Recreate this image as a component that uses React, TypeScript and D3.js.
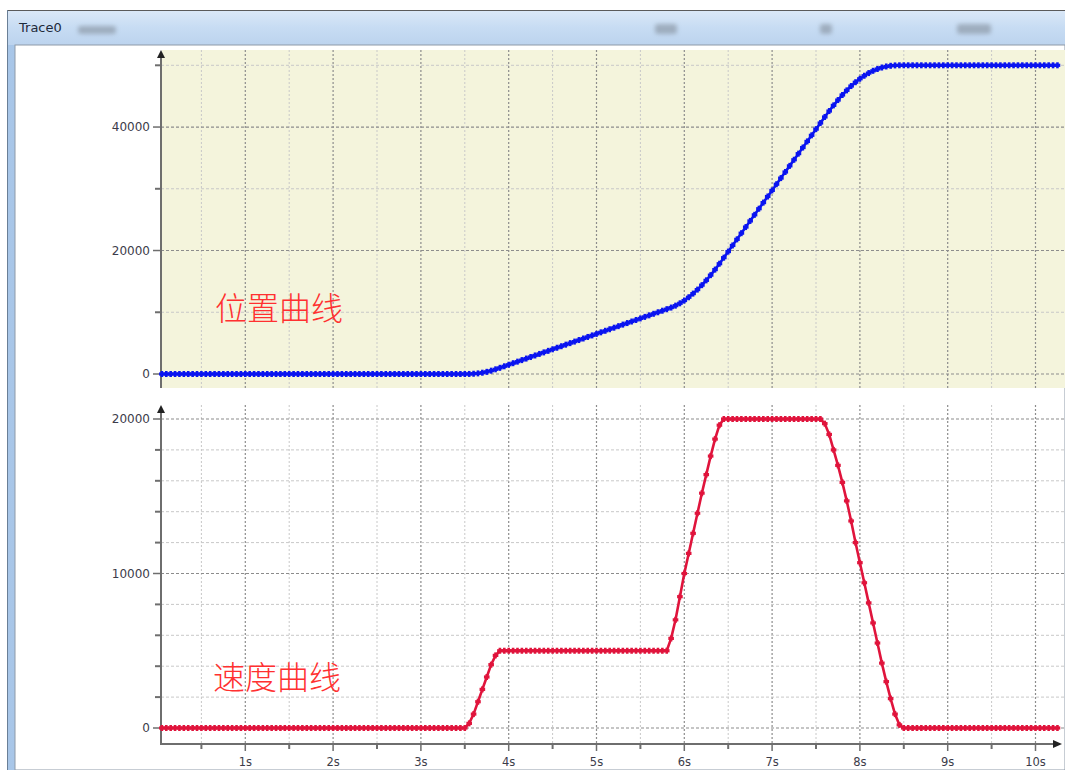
import React from "react";
import * as d3 from "d3";

// sample interval (s) and first sample time
const SAMPLE_STEP = 0.05;
const FIRST_T = 0.05;

const positionValues: number[] = [
  0, 0, 0, 0, 0, 0, 0, 0, 0, 0,
  0, 0, 0, 0, 0, 0, 0, 0, 0, 0,
  0, 0, 0, 0, 0, 0, 0, 0, 0, 0,
  0, 0, 0, 0, 0, 0, 0, 0, 0, 0,
  0, 0, 0, 0, 0, 0, 0, 0, 0, 0,
  0, 0, 0, 0, 0, 0, 0, 0, 0, 0,
  0, 0, 0, 0, 0, 0, 0, 0, 0, 0,
  10, 40, 100, 210, 350, 540, 760, 1000,
  1250, 1500, 1750, 2000, 2250, 2500, 2750, 3000, 3250, 3500,
  3750, 4000, 4250, 4500, 4750, 5000, 5250, 5500, 5750, 6000,
  6250, 6500, 6750, 7000, 7250, 7500, 7750, 8000, 8250, 8500,
  8750, 9000, 9250, 9500, 9750, 10000, 10250, 10500,
  10760, 11070, 11450, 11900, 12430, 13020, 13670, 14390, 15170, 16010,
  16910, 17860, 18840,
  19830, 20820, 21810, 22810, 23800, 24790, 25780, 26770, 27760, 28750,
  29740, 30740, 31730, 32720, 33710, 34700, 35690, 36680, 37670, 38660,
  39660, 40650,
  41630, 42590, 43510, 44370, 45190, 45940, 46640, 47260, 47820, 48310,
  48740, 49110, 49400, 49640, 49810, 49920, 49980, 50000, 50000,
  50000, 50000, 50000, 50000, 50000, 50000, 50000, 50000, 50000, 50000,
  50000, 50000, 50000, 50000, 50000, 50000, 50000, 50000, 50000, 50000,
  50000, 50000, 50000, 50000, 50000, 50000, 50000, 50000, 50000, 50000,
  50000, 50000, 50000, 50000, 50000,
];

const velocityValues: number[] = [
  0, 0, 0, 0, 0, 0, 0, 0, 0, 0,
  0, 0, 0, 0, 0, 0, 0, 0, 0, 0,
  0, 0, 0, 0, 0, 0, 0, 0, 0, 0,
  0, 0, 0, 0, 0, 0, 0, 0, 0, 0,
  0, 0, 0, 0, 0, 0, 0, 0, 0, 0,
  0, 0, 0, 0, 0, 0, 0, 0, 0, 0,
  0, 0, 0, 0, 0, 0, 0, 0, 0, 0,
  300, 900, 1700, 2500, 3300, 4100, 4700, 5000,
  5000, 5000, 5000, 5000, 5000, 5000, 5000, 5000, 5000, 5000,
  5000, 5000, 5000, 5000, 5000, 5000, 5000, 5000, 5000, 5000,
  5000, 5000, 5000, 5000, 5000, 5000, 5000, 5000, 5000, 5000,
  5000, 5000, 5000, 5000, 5000, 5000, 5000, 5000,
  5800, 7000, 8500, 10000, 11300, 12600, 13900, 15200, 16400, 17600,
  18700, 19600,
  20000, 20000, 20000, 20000, 20000, 20000, 20000, 20000, 20000, 20000,
  20000, 20000, 20000, 20000, 20000, 20000, 20000, 20000, 20000, 20000,
  20000, 20000, 20000,
  19700, 19000, 18000, 17000, 15900, 14700, 13400, 12000, 10700, 9400,
  8100, 6800, 5500, 4200, 3000, 1900, 900, 200,
  0, 0, 0, 0, 0, 0, 0, 0, 0, 0,
  0, 0, 0, 0, 0, 0, 0, 0, 0, 0,
  0, 0, 0, 0, 0, 0, 0, 0, 0, 0,
  0, 0, 0, 0, 0, 0,
];

const xMajorTicks = [1, 2, 3, 4, 5, 6, 7, 8, 9, 10];
const xMinorTicks = [0.5, 1.5, 2.5, 3.5, 4.5, 5.5, 6.5, 7.5, 8.5, 9.5];
const posMajorTicks = [0, 20000, 40000];
const posMinorTicks = [10000, 30000, 50000];
const velMajorTicks = [0, 10000, 20000];
const velMinorTicks = [2000, 4000, 6000, 8000, 12000, 14000, 16000, 18000];

const title = "Trace0";
const posLabel = "位置曲线";
const velLabel = "速度曲线";

const W = 1065;
const H = 770;
const AXIS_X = 161;
const X_RIGHT = 1062;

const xScale = d3.scaleLinear().domain([0, 10]).range([157.5, 1035.5]);
const yPos = d3.scaleLinear().domain([0, 50000]).range([374, 65.3]);
const yVel = d3.scaleLinear().domain([0, 20000]).range([728, 419]);

const AXIS_COLOR = "#6e6e6e";
const LABEL_COLOR = "#3c3c4a";
const FONT = "'DejaVu Sans', 'Liberation Sans', Arial, sans-serif";

function Series({ values, y, color }: { values: number[]; y: d3.ScaleLinear<number, number>; color: string }) {
  const pts: [number, number][] = values.map((v, i) => [xScale(FIRST_T + i * SAMPLE_STEP), y(v)]);
  const line = d3.line<[number, number]>().x((d) => d[0]).y((d) => d[1]);
  return (
    <g>
      <path d={line(pts) || ""} fill="none" stroke={color} strokeWidth={2.6} />
      {pts.map((p, i) => (
        <g key={i}>
          <rect x={p[0] - 1.3} y={p[1] - 3} width={2.6} height={6} fill={color} />
          <rect x={p[0] - 2.8} y={p[1] - 1.6} width={5.6} height={3.2} fill={color} />
        </g>
      ))}
    </g>
  );
}

function Panel({
  y,
  top,
  bottom,
  major,
  minor,
  bg,
}: {
  y: d3.ScaleLinear<number, number>;
  top: number;
  bottom: number;
  major: number[];
  minor: number[];
  bg?: string;
}) {
  return (
    <g>
      {bg && <rect x={AXIS_X + 1} y={top} width={W - AXIS_X} height={bottom - top} fill={bg} />}
      {xMinorTicks.map((t) => (
        <line key={"vm" + t} x1={xScale(t)} x2={xScale(t)} y1={top} y2={bottom} stroke="#c8c8c8" strokeWidth={1} strokeDasharray="2,2" />
      ))}
      {xMajorTicks.map((t) => (
        <line key={"vM" + t} x1={xScale(t)} x2={xScale(t)} y1={top} y2={bottom} stroke="#8c8c8c" strokeWidth={1.2} strokeDasharray="2,2" />
      ))}
      {minor.map((v) => (
        <line key={"hm" + v} x1={AXIS_X} x2={W} y1={y(v)} y2={y(v)} stroke="#c8c8c8" strokeWidth={1} strokeDasharray="3,2" />
      ))}
      {major.map((v) => (
        <line key={"hM" + v} x1={AXIS_X} x2={W} y1={y(v)} y2={y(v)} stroke="#8c8c8c" strokeWidth={1.2} strokeDasharray="3,2" />
      ))}
      <line x1={AXIS_X} x2={AXIS_X} y1={top + 4} y2={bottom} stroke={AXIS_COLOR} strokeWidth={2} />
      <path d={`M${AXIS_X - 4},${top + 8} L${AXIS_X},${top} L${AXIS_X + 4},${top + 8} Z`} fill="#222" />
      {minor.map((v) => (
        <line key={"tm" + v} x1={AXIS_X - 6} x2={AXIS_X} y1={y(v)} y2={y(v)} stroke={AXIS_COLOR} strokeWidth={2} />
      ))}
      {major.map((v) => (
        <g key={"tM" + v}>
          <line x1={AXIS_X - 8} x2={AXIS_X} y1={y(v)} y2={y(v)} stroke={AXIS_COLOR} strokeWidth={1.5} />
          <text x={AXIS_X - 11} y={y(v)} dy="0.35em" textAnchor="end" fontSize={12} fill={LABEL_COLOR} fontFamily={FONT}>
            {v}
          </text>
        </g>
      ))}
    </g>
  );
}

export default function App() {
  const xAxisY = 744;
  return (
    <svg width={W} height={H} style={{ position: "absolute", left: 0, top: 0, background: "#fff" }} fontFamily={FONT}>
      <defs>
        <linearGradient id="titleGrad" x1="0" y1="0" x2="0" y2="1">
          <stop offset="0" stopColor="#dbe8f7" />
          <stop offset="0.5" stopColor="#c7dcf3" />
          <stop offset="1" stopColor="#bcd3ee" />
        </linearGradient>
        <linearGradient id="sideGrad" x1="0" y1="0" x2="1" y2="0">
          <stop offset="0" stopColor="#a8c6e8" />
          <stop offset="0.5" stopColor="#cfe1f6" />
          <stop offset="1" stopColor="#b6d0ee" />
        </linearGradient>
        <filter id="blur" x="-50%" y="-50%" width="200%" height="200%">
          <feGaussianBlur stdDeviation="2.2" />
        </filter>
      </defs>
      <rect x={0} y={0} width={W} height={H} fill="#fff" />
      <rect x={7} y={10} width={W - 7} height={H - 10} fill="url(#sideGrad)" />
      <rect x={7} y={10} width={W - 7} height={35} fill="url(#titleGrad)" />
      <line x1={7} x2={W} y1={10.5} y2={10.5} stroke="#5a5a5a" strokeWidth={1.2} />
      <line x1={7.5} x2={7.5} y1={10} y2={H} stroke="#6a7f96" strokeWidth={1} />
      <rect x={15} y={45} width={W - 15} height={H - 45} fill="#fff" stroke="#8e9aa8" strokeWidth={1} />
      <text x={19} y={32} fontSize={13} fill="#1e2a3a" fontFamily={FONT}>
        {title}
      </text>
      <g filter="url(#blur)" fill="#8d9aa8" opacity={0.7}>
        <rect x={78} y={26} width={38} height={8} rx={3} />
        <rect x={655} y={24} width={22} height={10} rx={3} />
        <rect x={820} y={24} width={12} height={10} rx={3} />
        <rect x={957} y={24} width={34} height={10} rx={3} />
      </g>

      <Panel y={yPos} top={50} bottom={388} major={posMajorTicks} minor={posMinorTicks} bg="#f4f4dc" />
      <Series values={positionValues} y={yPos} color="#0a14f0" />
      <text x={215} y={320} fontSize={32} fill="#ff3030" fontFamily="'Noto Sans CJK SC', sans-serif" fontWeight={300}>
        {posLabel}
      </text>

      <Panel y={yVel} top={405} bottom={xAxisY} major={velMajorTicks} minor={velMinorTicks} />
      <Series values={velocityValues} y={yVel} color="#e0143c" />
      <text x={213} y={689} fontSize={32} fill="#ff3030" fontFamily="'Noto Sans CJK SC', sans-serif" fontWeight={300}>
        {velLabel}
      </text>

      <line x1={AXIS_X - 1} x2={X_RIGHT - 6} y1={xAxisY} y2={xAxisY} stroke={AXIS_COLOR} strokeWidth={2} />
      <path d={`M${X_RIGHT - 9},${xAxisY - 4} L${X_RIGHT},${xAxisY} L${X_RIGHT - 9},${xAxisY + 4} Z`} fill="#222" />
      {xMinorTicks.map((t) => (
        <line key={"xm" + t} x1={xScale(t)} x2={xScale(t)} y1={xAxisY} y2={xAxisY + 5} stroke={AXIS_COLOR} strokeWidth={2} />
      ))}
      {xMajorTicks.map((t) => (
        <g key={"xM" + t}>
          <line x1={xScale(t)} x2={xScale(t)} y1={xAxisY} y2={xAxisY + 7} stroke={AXIS_COLOR} strokeWidth={1.5} />
          <text x={xScale(t)} y={766} textAnchor="middle" fontSize={11.5} fill={LABEL_COLOR} fontFamily={FONT}>
            {t + "s"}
          </text>
        </g>
      ))}
    </svg>
  );
}
